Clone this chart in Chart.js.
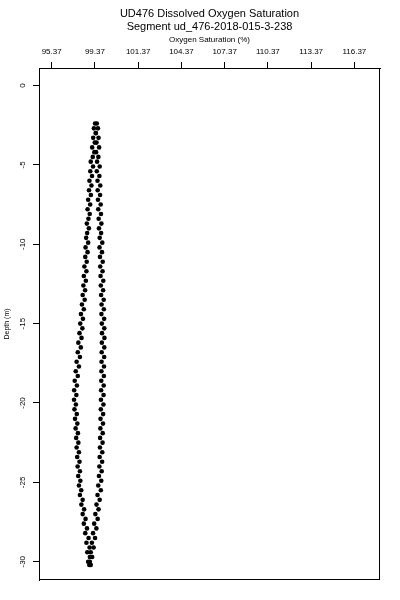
<!DOCTYPE html>
<html lang="en">
<head>
  <meta charset="UTF-8" />
  <title>UD476 Dissolved Oxygen Saturation</title>
  <script src="https://cdn.jsdelivr.net/npm/chart.js"></script>
  <style>
    html, body { margin: 0; padding: 0; background: #fff; }
    #wrap { position: relative; width: 400px; height: 600px; }
  </style>
</head>
<body>
  <div id="wrap"><canvas id="chart-do"></canvas></div>
  <script>
    // depth of each sample (m, negative down)
    const depths = [
      -2.4, -2.7, -3.0, -3.3, -3.6, -3.9, -4.2, -4.5, -4.8, -5.1,
      -5.4, -5.7, -6.0, -6.3, -6.6, -6.9, -7.2, -7.5, -7.8, -8.1,
      -8.4, -8.7, -9.0, -9.3, -9.6, -9.9, -10.2, -10.5, -10.8, -11.1,
      -11.4, -11.7, -12.0, -12.3, -12.6, -12.9, -13.2, -13.5, -13.8, -14.1,
      -14.4, -14.7, -15.0, -15.3, -15.6, -15.9, -16.2, -16.5, -16.8, -17.1,
      -17.4, -17.7, -18.0, -18.3, -18.6, -18.9, -19.2, -19.5, -19.8, -20.1,
      -20.4, -20.7, -21.0, -21.3, -21.6, -21.9, -22.2, -22.5, -22.8, -23.1,
      -23.4, -23.7, -24.0, -24.3, -24.6, -24.9, -25.2, -25.5, -25.8, -26.1,
      -26.4, -26.7, -27.0, -27.3, -27.6, -27.9, -28.2, -28.5, -28.8, -29.1,
      -29.4, -29.7, -30.0, -30.2
    ];
    // oxygen saturation (%), left branch of the profile
    const satLeft = [
      98.38, 98.30, 98.42, 98.25, 98.36, 98.18, 98.33, 98.22, 98.08, 98.24,
      98.05, 98.17, 97.99, 98.13, 97.96, 98.09, 97.90, 98.04, 97.86, 98.01,
      97.92, 97.81, 97.95, 97.83, 97.76, 97.90, 97.72, 97.86, 97.70, 97.80,
      97.64, 97.78, 97.60, 97.74, 97.57, 97.69, 97.52, 97.66, 97.47, 97.60,
      97.40, 97.54, 97.35, 97.50, 97.30, 97.44, 97.22, 97.39, 97.18, 97.33,
      97.10, 97.26, 97.04, 97.18, 96.97, 97.12, 96.93, 97.08, 96.92, 97.05,
      96.95, 97.11, 96.99, 97.15, 97.03, 97.19, 97.07, 97.22, 97.10, 97.26,
      97.14, 97.30, 97.17, 97.33, 97.21, 97.36, 97.26, 97.42, 97.33, 97.52,
      97.43, 97.62, 97.52, 97.72, 97.60, 97.82, 97.70, 97.93, 97.78, 98.00,
      97.84, 98.02, 97.90, 97.98
    ];
    // oxygen saturation (%), right branch of the profile
    const satRight = [
      98.50, 98.58, 98.44, 98.62, 98.48, 98.66, 98.45, 98.61, 98.52, 98.70,
      98.50, 98.68, 98.55, 98.74, 98.56, 98.73, 98.58, 98.77, 98.60, 98.79,
      98.63, 98.82, 98.65, 98.80, 98.70, 98.88, 98.69, 98.86, 98.72, 98.91,
      98.74, 98.90, 98.76, 98.95, 98.78, 98.94, 98.80, 98.98, 98.83, 98.99,
      98.82, 99.01, 98.85, 99.02, 98.86, 99.03, 98.85, 99.02, 98.84, 99.01,
      98.83, 99.00, 98.82, 98.99, 98.81, 98.98, 98.80, 98.97, 98.79, 98.96,
      98.78, 98.94, 98.76, 98.93, 98.75, 98.91, 98.73, 98.90, 98.72, 98.88,
      98.70, 98.87, 98.68, 98.84, 98.65, 98.81, 98.60, 98.78, 98.55, 98.70,
      98.48, 98.62, 98.40, 98.56, 98.32, 98.47, 98.24, 98.38, 98.16, 98.28,
      98.08, 98.18, 98.02, 98.08
    ];
    // top axis ticks: positions and the labels printed on them
    const xTickValues = [95.37, 98.37, 101.37, 104.37, 107.37, 110.37, 113.37, 116.37];
    const xTickLabels = ['95.37', '99.37', '101.37', '104.37', '107.37', '110.37', '113.37', '116.37'];
    const yTickValues = [0, -5, -10, -15, -20, -25, -30];
    const yTickLabels = ['0', '-5', '-10', '-15', '-20', '-25', '-30'];

    const FONT = "'Liberation Sans', Arial, sans-serif";

    const frameAndLabels = {
      id: 'frameAndLabels',
      afterDraw(chart) {
        const { ctx, chartArea: a, scales } = chart;
        ctx.save();
        ctx.strokeStyle = '#000';
        ctx.lineWidth = 1;
        ctx.strokeRect(Math.round(a.left) + 0.5, Math.round(a.top) + 0.5,
          Math.round(a.right - a.left) - 1, Math.round(a.bottom - a.top) - 1);

        ctx.fillStyle = '#000';
        ctx.textAlign = 'center';
        ctx.textBaseline = 'middle';
        ctx.font = '11px ' + FONT;
        const cx = (a.left + a.right) / 2;
        ctx.fillText('UD476 Dissolved Oxygen Saturation', cx, 14);
        ctx.fillText('Segment ud_476-2018-015-3-238', cx, 27);

        // rotated depth labels
        ctx.font = '8px ' + FONT;
        yTickValues.forEach((v, i) => {
          const y = scales.y.getPixelForValue(v);
          ctx.save();
          ctx.translate(23, y);
          ctx.rotate(-Math.PI / 2);
          ctx.fillText(yTickLabels[i], 0, 0);
          ctx.restore();
        });
        ctx.restore();
      }
    };

    new Chart(document.getElementById('chart-do'), {
      type: 'scatter',
      data: {
        datasets: [
          { data: depths.map((d, i) => ({ x: satLeft[i], y: d })), backgroundColor: '#000', borderWidth: 0, pointRadius: 2.3 },
          { data: depths.map((d, i) => ({ x: satRight[i], y: d })), backgroundColor: '#000', borderWidth: 0, pointRadius: 2.3 }
        ]
      },
      options: {
        responsive: true,
        maintainAspectRatio: false,
        animation: false,
        layout: { padding: { top: 0, left: 0, right: 20, bottom: 20 } },
        plugins: { legend: { display: false }, tooltip: { enabled: false } },
        scales: {
          x: {
            type: 'linear',
            position: 'top',
            min: 94.49,
            max: 118.15,
            afterBuildTicks: s => { s.ticks = xTickValues.map(v => ({ value: v })); },
            afterFit: s => { s.height = 68; },
            ticks: {
              color: '#000',
              padding: 5,
              maxRotation: 0,
              autoSkip: false,
              font: { family: FONT, size: 8 },
              callback: (v, i) => xTickLabels[i]
            },
            grid: { drawOnChartArea: false, drawTicks: true, tickLength: 6, color: '#000' },
            border: { display: true, color: '#000' },
            title: {
              display: true,
              text: 'Oxygen Saturation (%)',
              color: '#000',
              font: { family: FONT, size: 8 },
              padding: { top: 35, bottom: 0 }
            }
          },
          y: {
            type: 'linear',
            min: -31.15,
            max: 1.10,
            afterBuildTicks: s => { s.ticks = yTickValues.map(v => ({ value: v })); },
            afterFit: s => { s.width = 39; },
            ticks: { display: false },
            grid: { drawOnChartArea: false, drawTicks: true, tickLength: 6, color: '#000' },
            border: { display: true, color: '#000' },
            title: {
              display: true,
              text: 'Depth (m)',
              color: '#000',
              font: { family: FONT, size: 7 },
              padding: { top: 3, bottom: 0 }
            }
          }
        }
      },
      plugins: [frameAndLabels]
    });
  </script>
</body>
</html>
